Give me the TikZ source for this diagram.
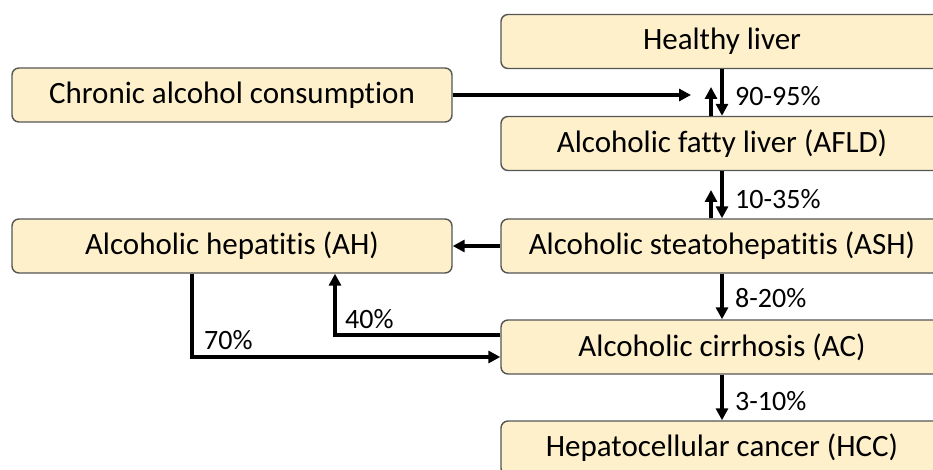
\documentclass[tikz,border=0pt]{standalone}
\usepackage{fontspec}
\setmainfont[RawFeature=-liga]{Carlito}
\usetikzlibrary{arrows.meta}
\definecolor{boxfill}{HTML}{FDF0CB}
\definecolor{boxline}{HTML}{555555}
\tikzset{
  stagebox/.style={draw=boxline, line width=1.4pt, fill=boxfill, rounded corners=7pt,
    minimum height=54pt, inner sep=0pt, font=\fontsize{31}{35}\selectfont},
  flow/.style={line width=3.3pt, -{Triangle[length=12pt,width=12pt]}},
  pct/.style={font=\fontsize{28}{32}\selectfont, anchor=west, inner sep=0pt}
}
\begin{document}
\begin{tikzpicture}[x=1pt,y=-1pt]
\useasboundingbox (0,0) rectangle (933,470);
\begin{scope}
\clip (0,0) rectangle (933,470);
% right-hand column of stages (boxes run past the right edge)
\node[stagebox, minimum width=442pt] (hl)   at (722,41.5)  {Healthy liver};
\node[stagebox, minimum width=442pt] (afld) at (722,143.5) {Alcoholic fatty liver (AFLD)};
\node[stagebox, minimum width=442pt] (ash)  at (722,246)   {Alcoholic steatohepatitis (ASH)};
\node[stagebox, minimum width=442pt] (ac)   at (722,347)   {Alcoholic cirrhosis (AC)};
\node[stagebox, minimum width=442pt] (hcc)  at (722,448)   {Hepatocellular cancer (HCC)};
% left-hand column
\node[stagebox, minimum width=440pt] (cac) at (232,95)  {Chronic alcohol consumption};
\node[stagebox, minimum width=440pt] (ah)  at (232,246) {Alcoholic hepatitis (AH)};
\end{scope}
% coordinates for the connector ends
\coordinate (cacend) at (691,95);
\coordinate (up1) at (711,87);
\coordinate (up2) at (711,190);
\coordinate (ahturn) at (192,357);
\coordinate (acturn) at (335,335);
% progression arrows
\draw[flow] (cac.east) -- (cacend);
\draw[flow] (hl.south -| 722,0) -- (afld.north -| 722,0);
\draw[flow] (afld.north -| up1) -- (up1);
\draw[flow] (afld.south -| 722,0) -- (ash.north -| 722,0);
\draw[flow] (ash.north -| up2) -- (up2);
\draw[flow] (ash.west) -- (ah.east);
\draw[flow] (ash.south -| 722,0) -- (ac.north -| 722,0);
\draw[flow] (ac.south -| 722,0) -- (hcc.north -| 722,0);
\draw[flow] (ac.west |- acturn) -- (acturn) -- (ah.south -| acturn);
\draw[flow] (ah.south -| ahturn) -- (ahturn) -- (ac.west |- ahturn);
% percentages
\node[pct] (p1) at (735,96)  {90-95\%};
\node[pct] (p2) at (735,199) {10-35\%};
\node[pct] (p3) at (735,298) {8-20\%};
\node[pct] (p4) at (735,401) {3-10\%};
\node[pct] (p5) at (345,319) {40\%};
\node[pct] (p6) at (204,340) {70\%};
\end{tikzpicture}
\end{document}
